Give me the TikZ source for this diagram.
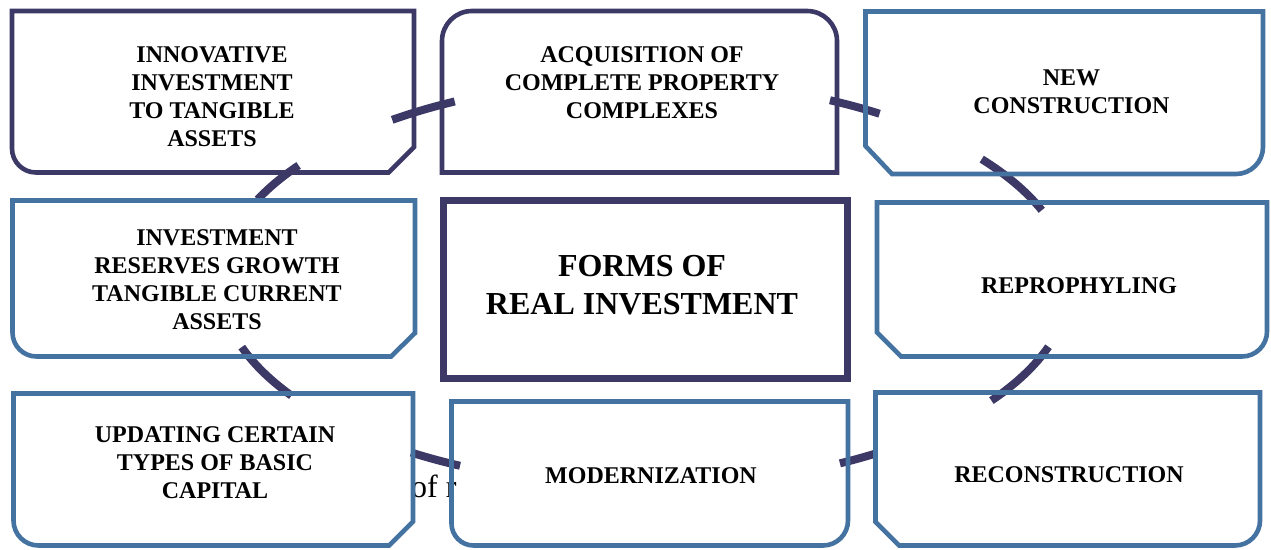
\documentclass[tikz,border=0pt]{standalone}
\usepackage{fontspec}
\setmainfont{Liberation Serif}
\definecolor{navy}{RGB}{60,57,102}
\definecolor{steel}{RGB}{69,115,161}
\begin{document}
\begin{tikzpicture}[x=1pt,y=-1pt,
  frame/.style={line width=4.6pt, line join=miter},
  navyframe/.style={frame, draw=navy},
  steelframe/.style={frame, draw=steel},
  ringseg/.style={draw=navy, line width=8pt},
  boxtext/.style={font=\bfseries\fontsize{24}{28}\selectfont, align=center, inner sep=0pt},
  titletext/.style={font=\bfseries\fontsize{32}{38}\selectfont, align=center, inner sep=0pt}]

\useasboundingbox (0,0) rectangle (1271,549);
\fill[white] (0,0) rectangle (1271,549);

% outlines of the nine boxes
\path[save path=\pInnov] (12,11) -- (414,11) -- (414,147) -- (388.5,172.5) -- (36,172.5)
  .. controls (22.75,172.5) and (12,161.75) .. (12,148.5) -- cycle;
\path[save path=\pAcq] (442,172.5) -- (442,41) .. controls (442,24.4) and (455.4,11) .. (472,11)
  -- (807,11) .. controls (823.6,11) and (837,24.4) .. (837,41) -- (837,172.5) -- cycle;
\path[save path=\pNew] (865.5,11.5) -- (1263,11.5) -- (1263,147)
  .. controls (1263,161.9) and (1250.9,174) .. (1236,174) -- (892,174) -- (865.5,146) -- cycle;
\path[save path=\pRes] (12.5,200.5) -- (415,200.5) -- (415,333) -- (391,356.5) -- (36.5,356.5)
  .. controls (23.25,356.5) and (12.5,345.75) .. (12.5,332.5) -- cycle;
\path[save path=\pCore] (443.5,200.5) rectangle (847.5,378.5);
\path[save path=\pRepro] (877,202.5) -- (1267,202.5) -- (1267,331.5)
  .. controls (1267,345.3) and (1255.8,356.5) .. (1242,356.5) -- (901,356.5) -- (877,332.5) -- cycle;
\path[save path=\pUpd] (13.5,393.5) -- (413,393.5) -- (413,521.5) -- (389,545.5) -- (38.5,545.5)
  .. controls (24.7,545.5) and (13.5,534.3) .. (13.5,520.5) -- cycle;
\path[save path=\pMod] (451.5,401.5) -- (848,401.5) -- (848,520.5)
  .. controls (848,534.3) and (836.8,545.5) .. (823,545.5) -- (473.5,545.5)
  .. controls (461.4,545.5) and (451.5,535.6) .. (451.5,523.5) -- cycle;
\path[save path=\pRec] (875.5,392.5) -- (1260,392.5) -- (1260,520.5)
  .. controls (1260,534.3) and (1248.8,545.5) .. (1235,545.5) -- (899,545.5) -- (875.5,522) -- cycle;

% white fills
\foreach \p in {\pInnov,\pAcq,\pNew,\pRes,\pCore,\pRepro,\pUpd,\pMod,\pRec}
  \path[use path=\p, fill=white];

% loose text fragment between the lower boxes
\node[anchor=base west, inner sep=0pt, font=\fontsize{32}{38}\selectfont] (frag) at (411,497) {of r};

% pieces of the elliptical ring linking the boxes
\coordinate (hub) at (645,283);
\foreach \a/\b in {-126.5/-116.6, -64.2/-56.5, -37.6/-21.0, 18.3/35.4,
                   57.0/62.7, 115.8/123.4, 146.3/161.6, -155.7/-144.6}
  \draw[ringseg] ([shift={(hub)}]\a:425 and 203) arc[start angle=\a, end angle=\b, x radius=425, y radius=203];

% box borders
\path[use path=\pInnov, navyframe];
\path[use path=\pAcq, navyframe];
\path[use path=\pNew, steelframe];
\path[use path=\pRes, steelframe];
\path[use path=\pCore, draw=navy, line width=7pt];
\path[use path=\pRepro, steelframe];
\path[use path=\pUpd, steelframe];
\path[use path=\pMod, steelframe];
\path[use path=\pRec, steelframe];

% labels
\node[boxtext] (innov) at (212,96.5) {INNOVATIVE\\INVESTMENT\\TO TANGIBLE\\ASSETS};
\node[boxtext] (acq) at (642,83) {ACQUISITION OF\\COMPLETE PROPERTY\\COMPLEXES};
\node[boxtext] (newc) at (1071.5,92) {NEW\\CONSTRUCTION};
\node[boxtext] (res) at (217,280) {INVESTMENT\\RESERVES GROWTH\\TANGIBLE CURRENT\\ASSETS};
\node[titletext] (core) at (642,285) {FORMS OF\\REAL INVESTMENT};
\node[boxtext] (repro) at (1079,286) {REPROPHYLING};
\node[boxtext] (upd) at (215,463) {UPDATING CERTAIN\\TYPES OF BASIC\\CAPITAL};
\node[boxtext] (mod) at (651,476) {MODERNIZATION};
\node[boxtext] (rec) at (1069,475) {RECONSTRUCTION};
\end{tikzpicture}
\end{document}
